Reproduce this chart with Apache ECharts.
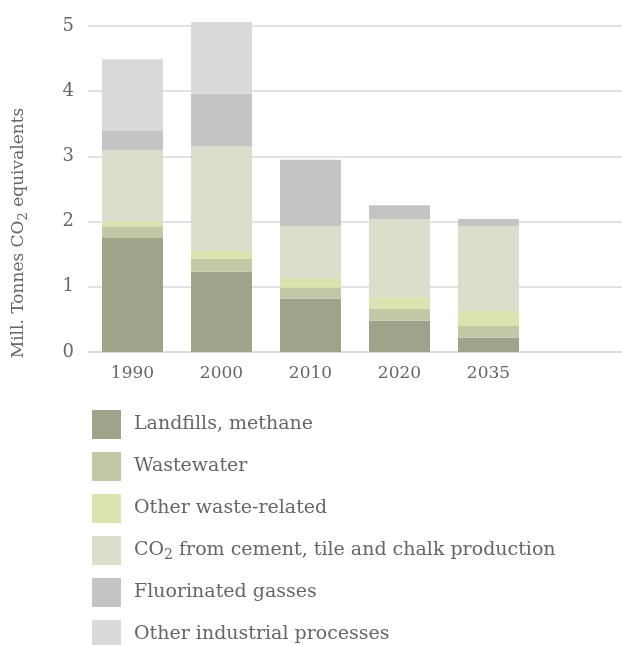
<!DOCTYPE html>
<html>
<head>
<meta charset="utf-8">
<script src="https://cdn.jsdelivr.net/npm/echarts@6/dist/echarts.min.js"></script>
<style>
  html, body { margin: 0; padding: 0; background: #ffffff; }
  #chart { width: 622px; height: 645px; }
</style>
</head>
<body>
<div id="chart"></div>
<script>
// Years on the x axis (the trailing blank keeps an empty slot on the right)
const years = ['1990', '2000', '2010', '2020', '2035', ''];

// Emissions by source, million tonnes CO2 equivalents
const landfills     = [1.75, 1.23, 0.82, 0.48, 0.22];
const wastewater    = [0.18, 0.20, 0.17, 0.18, 0.18];
const otherWaste    = [0.07, 0.12, 0.15, 0.18, 0.23];
const cementCO2     = [1.10, 1.60, 0.79, 1.20, 1.30];
const fluorinated   = [0.29, 0.81, 1.02, 0.21, 0.11];
const otherIndustry = [1.10, 1.10, 0.00, 0.00, 0.00];

const seriesNames = [
  'Landfills, methane',
  'Wastewater',
  'Other waste-related',
  'CO2 from cement, tile and chalk production',
  'Fluorinated gasses',
  'Other industrial processes'
];
const seriesData = [landfills, wastewater, otherWaste, cementCO2, fluorinated, otherIndustry];
const colors = ['#9ea38a', '#c2c8a6', '#d9e4ae', '#dadfcb', '#c4c4c4', '#d9d9d9'];

const yTicks = { min: 0, max: 5, interval: 1 };

const FONT = 'DejaVu Serif';
const TEXT = '#666666';

const chart = echarts.init(document.getElementById('chart'), null, { renderer: 'canvas' });

chart.setOption({
  animation: false,
  color: colors,
  grid: { left: 76, right: -8, top: 26, bottom: 293, containLabel: false },
  legend: {
    orient: 'vertical',
    left: 92,
    top: 410,
    height: 320,
    padding: 0,
    itemWidth: 29,
    itemHeight: 29,
    itemGap: 13,
    icon: 'rect',
    selectedMode: false,
    textStyle: {
      fontFamily: FONT,
      fontSize: 19,
      color: TEXT,
      padding: [0, 0, 0, 8],
      rich: {
        n: { fontFamily: FONT, fontSize: 19, color: TEXT, lineHeight: 24 },
        s: { fontFamily: FONT, fontSize: 14, color: TEXT, lineHeight: 14, padding: [9, 0, 0, 0] }
      }
    },
    formatter: function (name) {
      if (name.indexOf('CO2') === 0) {
        return '{n|CO}{s|2}{n|' + name.slice(3) + '}';
      }
      return name;
    },
    data: seriesNames
  },
  xAxis: {
    type: 'category',
    data: years,
    axisLine: { show: true, lineStyle: { color: '#d9d9d9', width: 1.5 } },
    axisTick: { show: false },
    axisLabel: { fontFamily: FONT, fontSize: 17, color: TEXT, margin: 13 }
  },
  yAxis: {
    type: 'value',
    min: yTicks.min,
    max: yTicks.max,
    interval: yTicks.interval,
    axisLine: { show: false },
    axisTick: { show: false },
    splitLine: { lineStyle: { color: '#d9d9d9', width: 1.5 } },
    axisLabel: { fontFamily: FONT, fontSize: 18, color: TEXT, margin: 14 },
    name: '{n|Mill. Tonnes CO}{s|2}{n| equivalents}',
    nameLocation: 'middle',
    nameGap: 58,
    nameRotate: 90,
    nameTextStyle: {
      padding: [0, 88, 0, 0],
      rich: {
        n: { fontFamily: FONT, fontSize: 17, color: TEXT, lineHeight: 22 },
        s: { fontFamily: FONT, fontSize: 13, color: TEXT, lineHeight: 13, padding: [9, 0, 0, 0] }
      }
    }
  },
  series: seriesNames.map(function (name, i) {
    return {
      name: name,
      type: 'bar',
      stack: 'total',
      barWidth: 61,
      clip: false,
      data: seriesData[i],
      itemStyle: { color: colors[i] }
    };
  })
});
</script>
</body>
</html>
